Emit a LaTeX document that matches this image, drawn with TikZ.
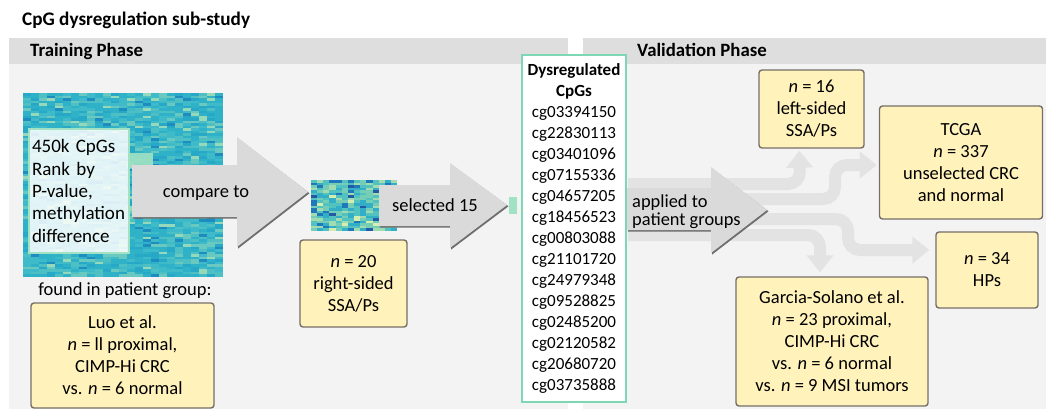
\documentclass[tikz,border=0pt]{standalone}
\usepackage{fontspec}
\setmainfont{Carlito}
\usetikzlibrary{arrows.meta,calc}
\definecolor{panelbg}{RGB}{243,243,243}
\definecolor{panelhead}{RGB}{222,222,222}
\definecolor{arrowfill}{RGB}{218,218,218}
\definecolor{arrowshade}{RGB}{110,110,110}
\definecolor{ribboncol}{RGB}{227,227,227}
\definecolor{boxfill}{RGB}{255,242,187}
\definecolor{boxline}{RGB}{118,110,104}
\definecolor{mint}{RGB}{125,215,180}
\definecolor{mintlight}{RGB}{160,226,195}
% heatmap palette (big)
\definecolor{cA}{RGB}{47,178,200}
\definecolor{cB}{RGB}{62,186,200}
\definecolor{cC}{RGB}{38,168,198}
\definecolor{cD}{RGB}{78,192,196}
\definecolor{cE}{RGB}{105,200,192}
\definecolor{cF}{RGB}{30,140,190}
\definecolor{cG}{RGB}{150,216,186}
\definecolor{cH}{RGB}{212,238,176}
\colorlet{hm1}{cA}\colorlet{hm2}{cA}\colorlet{hm3}{cA}\colorlet{hm4}{cA}
\colorlet{hm5}{cA}\colorlet{hm6}{cB}\colorlet{hm7}{cB}\colorlet{hm8}{cB}
\colorlet{hm9}{cB}\colorlet{hm10}{cC}\colorlet{hm11}{cC}\colorlet{hm12}{cC}
\colorlet{hm13}{cD}\colorlet{hm14}{cD}\colorlet{hm15}{cE}\colorlet{hm16}{cE}
\colorlet{hm17}{cA}\colorlet{hm18}{cF}\colorlet{hm19}{cG}\colorlet{hm20}{cD}
% small heatmap palette
\definecolor{sA}{RGB}{82,194,192}
\definecolor{sB}{RGB}{118,205,182}
\definecolor{sC}{RGB}{160,220,176}
\definecolor{sD}{RGB}{50,175,198}
\definecolor{sE}{RGB}{30,120,185}
\definecolor{sF}{RGB}{34,90,165}
\colorlet{hs1}{sA}\colorlet{hs2}{sA}\colorlet{hs3}{sA}\colorlet{hs4}{sA}
\colorlet{hs5}{sA}\colorlet{hs6}{sB}\colorlet{hs7}{sB}\colorlet{hs8}{sB}
\colorlet{hs9}{sB}\colorlet{hs10}{sC}\colorlet{hs11}{sC}\colorlet{hs12}{sC}
\colorlet{hs13}{sD}\colorlet{hs14}{sD}\colorlet{hs15}{sD}\colorlet{hs16}{sD}
\colorlet{hs17}{sE}\colorlet{hs18}{sE}\colorlet{hs19}{sF}\colorlet{hs20}{cH}
\newcommand\bodyfont{\fontsize{18.5}{22}\selectfont}
\begin{document}
\begin{tikzpicture}[x=1pt,y=-1pt,
  lbl/.style={font=\bodyfont, inner sep=0pt},
  ybox/.style={draw=boxline, line width=1.4pt, fill=boxfill, rounded corners=3pt,
    align=center, font=\bodyfont, inner sep=2pt},
  blockarrow/.style={fill=arrowfill},
  blockshade/.style={fill=arrowshade},
  ribbon/.style={draw=ribboncol, line width=12pt, rounded corners=12pt,
    -{Triangle[length=17pt,width=26pt]}},
]
\useasboundingbox (0,0) rectangle (1046,409);
\fill[white] (0,0) rectangle (1046,409);
% panels
\fill[panelbg] (9,64) rectangle (568,409);
\fill[panelhead] (9,38) rectangle (568,64);
\fill[panelbg] (583,64) rectangle (1046,409);
\fill[panelhead] (583,38) rectangle (1046,64);
\node[lbl, anchor=base west] (title) at (22,26) {\fontsize{19.2}{22}\selectfont\bfseries CpG dysregulation sub-study};
\node[lbl, anchor=base west] (train) at (30,57) {\fontsize{18.8}{22}\selectfont\bfseries Training Phase};
\node[lbl, anchor=base west] (valid) at (637,57) {\fontsize{18.8}{22}\selectfont\bfseries Validation Phase};

% big heatmap
\pgfmathsetseed{11}
\foreach \r in {0,...,72}{
  \foreach \c in {0,...,24}{
    \pgfmathrandominteger{\k}{1}{20}
    \fill[fill=hm\k] ({23+\c*8},{93+\r*2.52}) rectangle ++(8,2.55);
  }
}
\node[inner sep=0pt, minimum width=200pt, minimum height=184pt, anchor=north west] (hmbig) at (23,93) {};
% small heatmap
\foreach \r in {0,...,19}{
  \foreach \c in {0,...,13}{
    \pgfmathrandominteger{\k}{1}{20}
    \fill[fill=hs\k] ({311+\c*6.15},{180+\r*2.55}) rectangle ++(6.15,2.58);
  }
}
\node[inner sep=0pt, minimum width=86pt, minimum height=51pt, anchor=north west] (hmsmall) at (311,180) {};

% highlight bar and ranking box
\fill[mintlight, opacity=0.9] (128,153) rectangle (153,168);
\node[draw=mintlight, line width=2pt, fill=white, fill opacity=0.85, text opacity=1,
  anchor=north west, minimum width=100pt, minimum height=124pt, text width=94pt,
  inner sep=3pt, align=left, font=\fontsize{19}{22.3}\selectfont] (rank) at (28,128)
  {450k CpGs\\Rank by\\P-value,\\methylation\\difference};

% compare-to arrow
\fill[blockshade] (133.2,166.3) -- (238.2,166.3) -- (238.2,138.5) -- (309.5,193.3) -- (238.2,248.5) -- (238.2,218.5) -- (133.2,218.5) -- cycle;
\fill[blockarrow] (132,165) -- (237,165) -- (237,137) -- (308,192) -- (237,247) -- (237,217) -- (132,217) -- cycle;
\node[lbl, anchor=base] (cmp) at (206,197) {compare to};

% selected arrow
\fill[blockshade] (380.2,186.3) -- (451.2,186.3) -- (451.2,164.5) -- (508.5,206.3) -- (451.2,249.5) -- (451.2,227.5) -- (380.2,227.5) -- cycle;
\fill[blockarrow] (379,185) -- (450,185) -- (450,163) -- (507,205) -- (450,248) -- (450,226) -- (379,226) -- cycle;
\node[lbl, anchor=base] (sel) at (435,211) {selected 15};
\fill[mintlight] (509,197) rectangle (517,214);

% found in
\node[lbl, anchor=base] (found) at (125,295) {found in patient group:};

% yellow boxes, training
\node[ybox, minimum width=183pt, minimum height=105pt] (luo) at (122.5,355.5)
  {Luo et al.\\\textit{n} = ll proximal,\\CIMP-Hi CRC\\vs. \textit{n} = 6 normal};
\node[ybox, minimum width=107pt, minimum height=87pt] (n20) at (353.5,283.5)
  {\textit{n} = 20\\right-sided\\SSA/Ps};

% CpG list
\node[draw=mint, line width=2.5pt, fill=white, minimum width=104pt, minimum height=347pt,
  align=center, inner sep=0pt, font=\fontsize{17}{21}\selectfont] (cpgs) at (574,228.5)
  {\textbf{Dysregulated}\\\textbf{CpGs}\\cg03394150\\cg22830113\\cg03401096\\cg07155336\\cg04657205\\cg18456523\\cg00803088\\cg21101720\\cg24979348\\cg09528825\\cg02485200\\cg02120582\\cg20680720\\cg03735888};

% validation boxes
\node[ybox, minimum width=105pt, minimum height=78pt] (n16) at (811.5,109)
  {\textit{n} = 16\\left-sided\\SSA/Ps};
\node[ybox, minimum width=163pt, minimum height=113pt] (tcga) at (961,162.5)
  {TCGA\\\textit{n} = 337\\unselected CRC\\and normal};
\node[ybox, minimum width=102pt, minimum height=76pt] (hps) at (987,270)
  {\textit{n} = 34\\HPs};
\node[ybox, minimum width=192pt, minimum height=129pt] (garcia) at (832,341.5)
  {Garcia-Solano et al.\\\textit{n} = 23 proximal,\\CIMP-Hi CRC\\vs. \textit{n} = 6 normal\\vs. \textit{n} = 9 MSI tumors};

% branch ribbons
\coordinate (split1) at (628,184);
\coordinate (split2) at (628,199);
\coordinate (split3) at (628,219);
\coordinate (split4) at (628,235);
\draw[ribbon] (split1) -- (800,184) -- ($(n16.south west)+(41,2)$);
\draw[ribbon] (split2) -- (835,199) -- (835,165) -- ($(tcga.west |- 0,165)+(-2,0)$);
\draw[ribbon] (split3) -- (848,219) -- (848,250) -- ($(hps.west |- 0,250)+(-6,0)$);
\draw[ribbon] (split4) -- (820,235) -- ($(garcia.north)+(-12,-4)$);

% applied arrow
\fill[blockshade] (628.2,189.3) -- (712.2,189.3) -- (712.2,168.5) -- (768.5,211.3) -- (712.2,254.5) -- (712.2,231.5) -- (628.2,231.5) -- cycle;
\fill[blockarrow] (627,188) -- (711,188) -- (711,167) -- (767,210) -- (711,253) -- (711,230) -- (627,230) -- cycle;
\node[lbl, anchor=west, align=left, font=\fontsize{18.4}{18}\selectfont] (appl) at (632,212) {applied to\\patient groups};
\end{tikzpicture}
\end{document}
